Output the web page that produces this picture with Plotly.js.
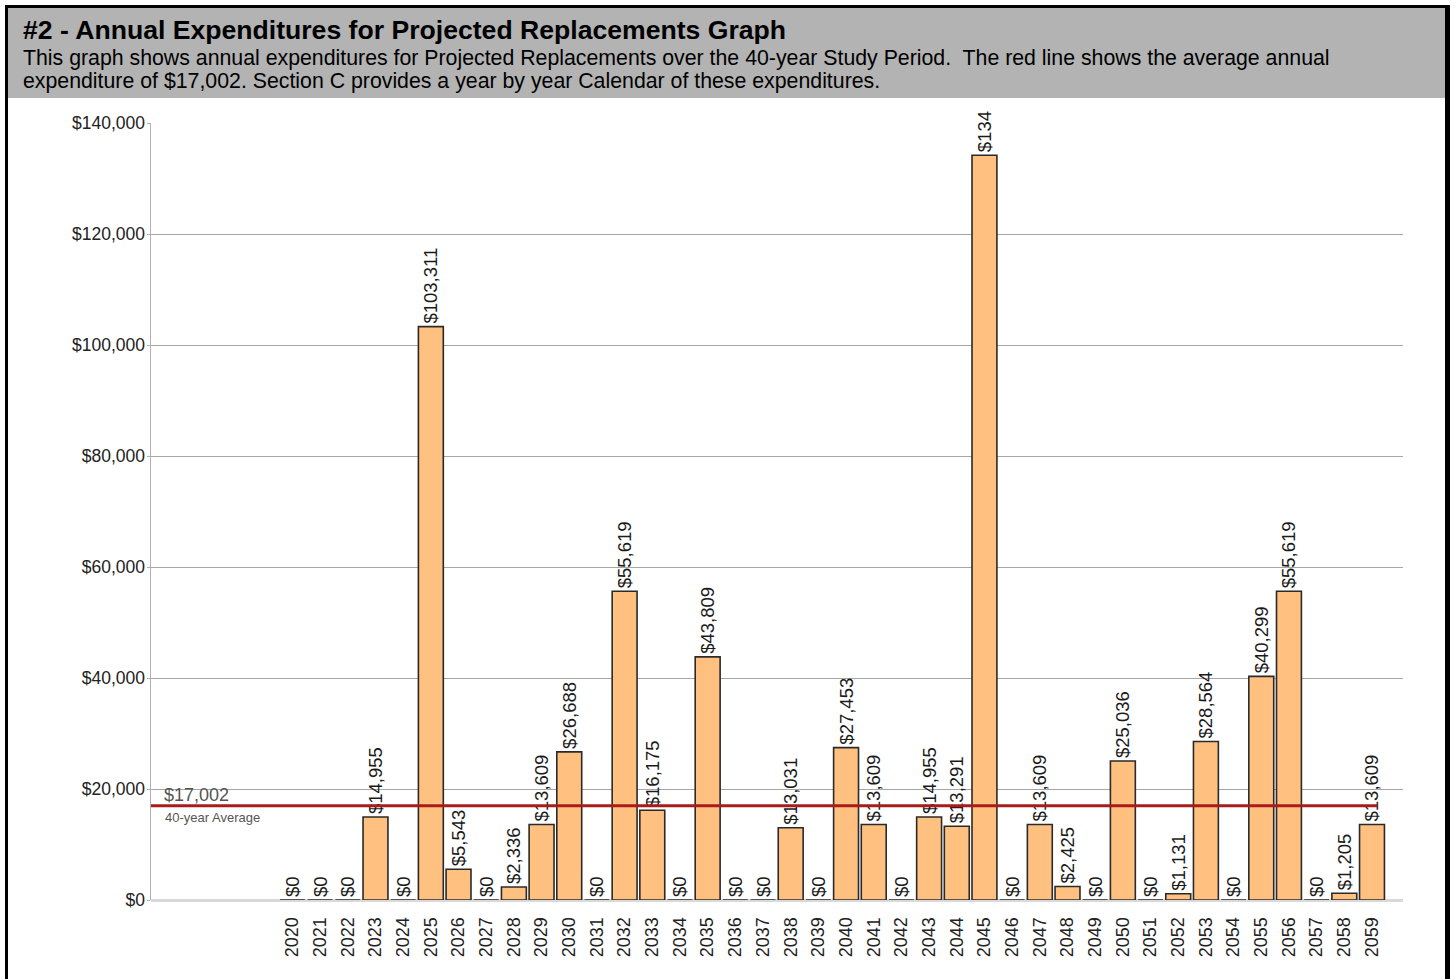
<!DOCTYPE html>
<html>
<head>
<meta charset="utf-8">
<script src="https://cdn.plot.ly/plotly-3.0.1.min.js"></script>
<style>
html,body{margin:0;padding:0;background:#fff;}
#chart{width:1456px;height:979px;}
</style>
</head>
<body>
<div id="chart"></div>
<script>
// ---- data ----
const years = [2020,2021,2022,2023,2024,2025,2026,2027,2028,2029,2030,2031,2032,2033,2034,2035,2036,2037,2038,2039,
               2040,2041,2042,2043,2044,2045,2046,2047,2048,2049,2050,2051,2052,2053,2054,2055,2056,2057,2058,2059];
const expenditures = [0,0,0,14955,0,103311,5543,0,2336,13609,26688,0,55619,16175,0,43809,0,0,13031,0,
                      27453,13609,0,14955,13291,134199,0,13609,2425,0,25036,0,1131,28564,0,40299,55619,0,1205,13609];
const barLabels = ["$0","$0","$0","$14,955","$0","$103,311","$5,543","$0","$2,336","$13,609","$26,688","$0","$55,619","$16,175","$0","$43,809","$0","$0","$13,031","$0",
                   "$27,453","$13,609","$0","$14,955","$13,291","$134","$0","$13,609","$2,425","$0","$25,036","$0","$1,131","$28,564","$0","$40,299","$55,619","$0","$1,205","$13,609"];
const yTicks = [0,20000,40000,60000,80000,100000,120000,140000];
const yTickLabels = ["$0","$20,000","$40,000","$60,000","$80,000","$100,000","$120,000","$140,000"];
const averageValue = 17002;
const averageLabel = "$17,002";
const averageCaption = "40-year Average";
const titleText = "#2 - Annual Expenditures for Projected Replacements Graph";
const subtitleLine1 = "This graph shows annual expenditures for Projected Replacements over the 40-year Study Period.  The red line shows the average annual";
const subtitleLine2 = "expenditure of $17,002. Section C provides a year by year Calendar of these expenditures.";

// ---- layout helpers (pixel -> paper) ----
const W = 1456, H = 979;
const L = 151, R = 53, T = 123, B = 79;
const PW = W - L - R, PH = H - T - B;
const px = x => (x - L) / PW;
const py = y => (H - B - y) / PH;
const FONT = "Arial, 'Liberation Sans', sans-serif";

const bars = {
  type: 'bar',
  x: years,
  y: expenditures,
  width: 0.9,
  marker: {color: '#FFC080', line: {color: '#2a2a2a', width: 1.6}},
  text: barLabels,
  textposition: 'outside',
  textangle: -90,
  constraintext: 'none',
  cliponaxis: false,
  textfont: {family: FONT, size: 18.5, color: '#1a1a1a'},
  hoverinfo: 'x+y'
};

const layout = {
  width: W, height: H,
  margin: {l: L, r: R, t: T, b: B, pad: 0},
  paper_bgcolor: '#ffffff',
  plot_bgcolor: '#ffffff',
  showlegend: false,
  font: {family: FONT, size: 16, color: '#222'},
  xaxis: {
    range: [2014.89, 2060.12],
    tickmode: 'array',
    tickvals: years,
    ticktext: years.map(String),
    tickangle: -90,
    tickfont: {family: FONT, size: 18, color: '#222'},
    showgrid: false,
    zeroline: false,
    showline: false,
    ticks: 'outside',
    ticklen: 9,
    tickcolor: 'rgba(0,0,0,0)',
    fixedrange: true
  },
  yaxis: {
    range: [0, 140000],
    tickmode: 'array',
    tickvals: yTicks,
    ticktext: yTickLabels,
    tickfont: {family: FONT, size: 17.5, color: '#222'},
    showgrid: true,
    gridcolor: '#a6a6a6',
    gridwidth: 1,
    zeroline: true,
    zerolinecolor: '#d9d9d9',
    zerolinewidth: 3,
    showline: true,
    linecolor: '#b0b0b0',
    linewidth: 1.5,
    ticks: 'outside',
    ticklen: 3,
    tickcolor: '#b0b0b0',
    ticklabelstandoff: -2,
    fixedrange: true
  },
  shapes: [
    // header band
    {type: 'rect', xref: 'paper', yref: 'paper', x0: px(8), x1: px(1445), y0: py(98), y1: py(8),
     fillcolor: '#b3b3b3', line: {width: 0}, layer: 'below'},
    // borders
    {type: 'rect', xref: 'paper', yref: 'paper', x0: px(5), x1: px(8), y0: py(979), y1: py(5),
     fillcolor: '#000', line: {width: 0}},
    {type: 'rect', xref: 'paper', yref: 'paper', x0: px(1445), x1: px(1450), y0: py(979), y1: py(5),
     fillcolor: '#000', line: {width: 0}},
    {type: 'rect', xref: 'paper', yref: 'paper', x0: px(5), x1: px(1450), y0: py(8), y1: py(5),
     fillcolor: '#000', line: {width: 0}},
    // average line
    {type: 'line', xref: 'x', yref: 'y', x0: 2014.89, x1: 2059.2, y0: averageValue, y1: averageValue,
     line: {color: '#a81c1c', width: 3}}
  ],
  annotations: [
    {xref: 'paper', yref: 'paper', x: px(21), y: py(30), xanchor: 'left', yanchor: 'middle', showarrow: false,
     text: '<b>' + titleText + '</b>', font: {family: FONT, size: 26.6, color: '#000'}},
    {xref: 'paper', yref: 'paper', x: px(21), y: py(58), xanchor: 'left', yanchor: 'middle', showarrow: false,
     text: subtitleLine1.replace('  ', '&nbsp; '), font: {family: FONT, size: 21.3, color: '#000'}},
    {xref: 'paper', yref: 'paper', x: px(21), y: py(81), xanchor: 'left', yanchor: 'middle', showarrow: false,
     text: subtitleLine2, font: {family: FONT, size: 21.3, color: '#000'}},
    {xref: 'paper', yref: 'y', x: px(162), y: averageValue, xanchor: 'left', yanchor: 'bottom', yshift: -1,
     showarrow: false, text: averageLabel, font: {family: FONT, size: 18, color: '#555'}},
    {xref: 'paper', yref: 'y', x: px(163), y: averageValue, xanchor: 'left', yanchor: 'top', yshift: -2,
     showarrow: false, text: averageCaption, font: {family: FONT, size: 13, color: '#555'}}
  ]
};

Plotly.newPlot('chart', [bars], layout, {displayModeBar: false, staticPlot: true});
</script>
</body>
</html>
